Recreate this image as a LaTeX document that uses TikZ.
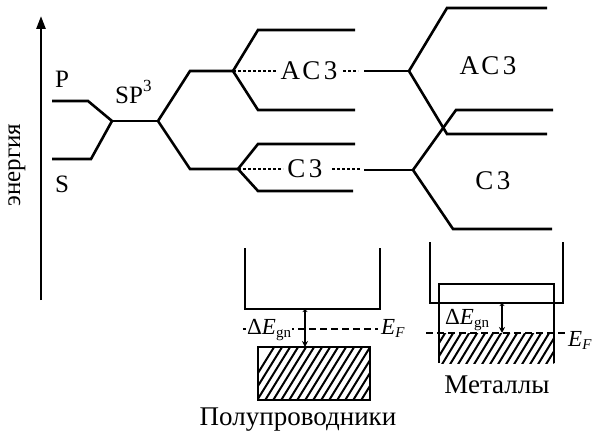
\documentclass[tikz,border=0pt]{standalone}
\usepackage{fontspec}
\setmainfont{Liberation Serif}
\usetikzlibrary{arrows.meta}
\newcommand{\myidx}[1]{\raisebox{-0.35ex}{\fontsize{15}{15}\selectfont #1}}
\begin{document}
\begin{tikzpicture}[x=1pt,y=-1pt,
  lvl/.style={line width=2.6pt, line join=miter},
  dots/.style={line width=1.4pt, dash pattern=on 3pt off 2pt},
  fermi/.style={line width=1.2pt, dash pattern=on 7pt off 4pt},
  hatch/.style={line width=2pt},
  gap/.style={line width=2pt, {Stealth[length=3pt,width=5pt]}-{Stealth[length=6pt,width=6pt]}},
  lbl/.style={font=\fontsize{25}{28}\selectfont, inner sep=0pt},
  big/.style={font=\fontsize{27}{30}\selectfont, inner sep=0pt},
  sp/.style={font=\fontsize{27}{30}\selectfont\addfontfeature{LetterSpace=13}, inner sep=0pt},
  mlbl/.style={font=\fontsize{23}{26}\selectfont, inner sep=0pt}]
\useasboundingbox (0,0) rectangle (592,441);
% axis
\coordinate (ax0) at (41,300);
\coordinate (ax1) at (41,16);
\draw[line width=2.6pt,-{Triangle[length=13pt,width=9pt]}] (ax0) -- (ax1);
\node[lbl, rotate=90] (en) at (17,165) {энергия};
% P, S levels
\coordinate (p0) at (52,101); \coordinate (p1) at (88,101);
\coordinate (s0) at (52,159); \coordinate (s1) at (91,159);
\coordinate (h0) at (112,121); \coordinate (h1) at (158,121);
\draw[lvl] (p0) -- (p1) -- (h0);
\draw[lvl] (s0) -- (s1) -- (h0);
\draw[lvl] (h0) -- (h1);
\node[lbl, anchor=base] (P) at (62,88) {P};
\node[lbl, anchor=base] (S) at (62,193) {S};
\node[lbl, anchor=base west] (SP) at (115,104) {SP\raisebox{1.1ex}{\fontsize{17}{17}\selectfont 3}};
% first split
\coordinate (a0) at (190,71); \coordinate (ja) at (233,71);
\coordinate (b0) at (190,169); \coordinate (jb) at (238,169);
\draw[lvl] (h1) -- (a0) -- (ja);
\draw[lvl] (h1) -- (b0) -- (jb);
% antibonding split
\coordinate (a1) at (258,30); \coordinate (a2) at (355,30);
\coordinate (a3) at (258,110); \coordinate (a4) at (355,110);
\draw[lvl] (ja) -- (a1) -- (a2);
\draw[lvl] (ja) -- (a3) -- (a4);
% bonding split
\coordinate (b1) at (258,144); \coordinate (b2) at (355,144);
\coordinate (b3) at (258,191); \coordinate (b4) at (353,191);
\draw[lvl] (jb) -- (b1) -- (b2);
\draw[lvl] (jb) -- (b3) -- (b4);
% middle labels with dotted lines
\node[sp] (AC1) at (309,71) {АС3};
\node[sp] (C1) at (305,169) {С3};
\coordinate (d1) at (276,71); \coordinate (d2) at (343,71); \coordinate (d3) at (358,71);
\coordinate (e1) at (283,169); \coordinate (e2) at (332,169); \coordinate (e3) at (360,169);
\draw[dots] (ja) -- (d1);
\draw[dots] (d2) -- (d3);
\draw[dots] (jb) -- (e1);
\draw[dots] (e2) -- (e3);
% right part
\coordinate (ra0) at (364,71); \coordinate (rja) at (409,71);
\coordinate (rb0) at (364,170); \coordinate (rjb) at (413,170);
\draw[lvl] (ra0) -- (rja);
\draw[lvl] (rb0) -- (rjb);
\coordinate (ra1) at (447,8); \coordinate (ra2) at (547,8);
\coordinate (ra3) at (447,134); \coordinate (ra4) at (547,134);
\coordinate (rb1) at (456,110); \coordinate (rb2) at (553,110);
\coordinate (rb3) at (453,229); \coordinate (rb4) at (552,229);
\draw[lvl] (rja) -- (ra1) -- (ra2);
\draw[lvl] (rja) -- (ra3) -- (ra4);
\draw[lvl] (rjb) -- (rb1) -- (rb2);
\draw[lvl] (rjb) -- (rb3) -- (rb4);
\node[sp] (AC2) at (488,66) {АС3};
\node[sp] (C2) at (493,181) {С3};
% semiconductor
\coordinate (sc1) at (245,248); \coordinate (sc2) at (245,309);
\coordinate (sc3) at (380,309); \coordinate (sc4) at (380,248);
\draw[lvl] (sc1) -- (sc2) -- (sc3) -- (sc4);
\begin{scope}
  \clip (258,347) rectangle (370,400);
  \foreach \i in {0,...,18} \draw[hatch] ({240+8*\i},402) -- ++(36,-58);
\end{scope}
\draw[lvl] (258,347) rectangle (370,400);
\coordinate (f1) at (243,329); \coordinate (f2) at (378,329);
\draw[fermi] (f1) -- (f2);
\node[mlbl, fill=white, anchor=base west, inner xsep=1pt] (dE1) at (246,334) {Δ\textit{E}\myidx{gn}};
\node[mlbl, anchor=base west] (EF1) at (381,334) {\textit{E}\myidx{\textit{F}}};
\coordinate (g1) at (305,309); \coordinate (g2) at (305,347);
\draw[gap] (g1) -- (g2);
\node[big] (semi) at (298,420) {Полупроводники};
% metal
\coordinate (m1) at (430,242); \coordinate (m2) at (430,303);
\coordinate (m3) at (563,303); \coordinate (m4) at (563,242);
\draw[lvl] (m1) -- (m2) -- (m3) -- (m4);
\begin{scope}
  \clip (439,333) rectangle (554,363);
  \foreach \i in {0,...,17} \draw[hatch] ({425+8*\i},366) -- ++(22,-36);
\end{scope}
\coordinate (n1) at (439,363); \coordinate (n2) at (439,284);
\coordinate (n3) at (554,284); \coordinate (n4) at (554,363);
\draw[lvl] (n1) -- (n2) -- (n3) -- (n4);
\coordinate (f3) at (426,333); \coordinate (f4) at (567,333);
\draw[fermi] (f3) -- (f4);
\coordinate (g3) at (502,303); \coordinate (g4) at (502,333);
\draw[gap] (g3) -- (g4);
\node[mlbl, anchor=base west] (dE2) at (445,324) {Δ\textit{E}\myidx{gn}};
\node[mlbl, anchor=base west] (EF2) at (568,346) {\textit{E}\myidx{\textit{F}}};
\node[big] (met) at (497,385) {Металлы};
\end{tikzpicture}
\end{document}
